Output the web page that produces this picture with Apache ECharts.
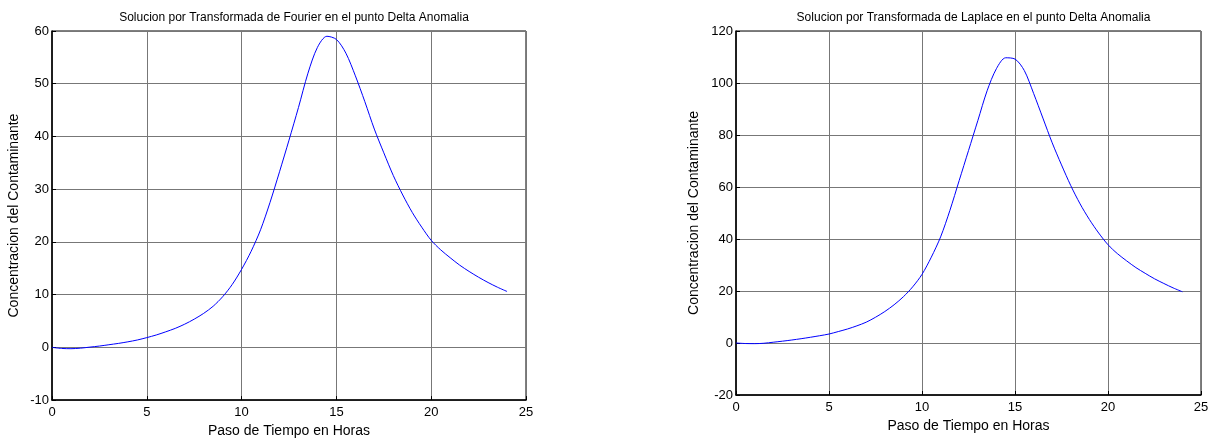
<!DOCTYPE html>
<html>
<head>
<meta charset="utf-8">
<script src="https://cdn.jsdelivr.net/npm/echarts@6/dist/echarts.min.js"></script>
<style>
html,body{margin:0;padding:0;background:#fff;}
#c{width:1212px;height:443px;}
</style>
</head>
<body>
<div id="c"></div>
<script>
const timeHours = [0,0.5,1,1.5,2,2.5,3,3.5,4,4.5,5,5.5,6,6.5,7,7.5,8,8.5,9,9.5,10,10.5,11,11.5,12,12.5,13,13.5,14,14.5,15,15.5,16,16.5,17,17.5,18,18.5,19,19.5,20,20.5,21,21.5,22,22.5,23,23.5,24];
const fourierValues = [0,-0.2,-0.25,-0.15,0.05,0.25,0.5,0.75,1.05,1.4,1.85,2.35,2.95,3.6,4.4,5.35,6.45,7.8,9.6,11.9,14.8,18.2,22.3,27.5,33.3,39.3,45.5,52,56.9,59,58.4,55.8,51.5,46.6,41.4,36.9,32.6,28.9,25.6,22.8,20.3,18.5,17,15.6,14.4,13.3,12.3,11.4,10.6];
const laplaceValues = [0,-0.2,-0.25,-0.1,0.3,0.7,1.15,1.65,2.2,2.8,3.45,4.4,5.4,6.6,8.0,9.9,12.1,14.7,17.8,21.6,26.4,33,40.8,51,62.5,74,85.5,97,105.5,109.7,109.2,104.8,96,86.5,77,68.5,60.5,53.5,47.5,42.3,37.8,34.4,31.6,29,26.8,24.7,22.9,21.2,19.7];
const titles = ["Solucion por Transformada de Fourier en el punto Delta Anomalia","Solucion por Transformada de Laplace en el punto Delta Anomalia"];
const xName = "Paso de Tiempo en Horas";
const yName = "Concentracion del Contaminante";
const xRange = {min:0,max:25,interval:5};
const yRanges = [{min:-10,max:60,interval:10},{min:-20,max:120,interval:20}];

const font = 'Liberation Sans, Arial, sans-serif';
const grids = [
  {left:52, top:31, width:474, height:372},
  {left:736, top:31, width:465, height:364}
];
const chart = echarts.init(document.getElementById('c'));
function pairs(vals){ return timeHours.map((t,i)=>[t, vals[i]]); }
const splitLine = {show:true, lineStyle:{color:'#777777', width:1}};
const opt = {
  animation:false,
  backgroundColor:'#fff',
  title: titles.map((t,i)=>({
    text:t, left: grids[i].left + grids[i].width/2, top:7, textAlign:'center',
    textStyle:{fontFamily:font, fontSize:12, fontWeight:'normal', color:'#000'}
  })),
  grid: grids.map(g=>Object.assign({show:true, borderColor:'#000', borderWidth:1, backgroundColor:'#fff'}, g)),
  xAxis: [0,1].map(i=>({
    type:'value', gridIndex:i, min:xRange.min, max:xRange.max, interval:xRange.interval,
    name:xName, nameLocation:'middle', nameGap:23,
    nameTextStyle:{fontFamily:font, fontSize:14, color:'#000'},
    axisLine:{show:true, onZero:false, lineStyle:{color:'#000', width:1.5}},
    axisTick:{show:true, inside:true, length:4, lineStyle:{color:'#000'}},
    axisLabel:{fontFamily:font, fontSize:13, color:'#000', margin:6},
    splitLine: splitLine
  })),
  yAxis: [0,1].map(i=>({
    type:'value', gridIndex:i, min:yRanges[i].min, max:yRanges[i].max, interval:yRanges[i].interval,
    name:yName, nameLocation:'middle', nameGap: i===0?31:35, nameRotate:90,
    nameTextStyle:{fontFamily:font, fontSize:14, color:'#000'},
    axisLine:{show:true, onZero:false, lineStyle:{color:'#000', width:1.5}},
    axisTick:{show:true, inside:true, length:4, lineStyle:{color:'#000'}},
    axisLabel:{fontFamily:font, fontSize:13, color:'#000', margin:3},
    splitLine: splitLine
  })),
  series: [fourierValues, laplaceValues].map((v,i)=>({
    type:'line', xAxisIndex:i, yAxisIndex:i, data:pairs(v), showSymbol:false, symbol:'none',
    smooth:0.3, lineStyle:{color:'#0000ff', width:1}
  }))
};
chart.setOption(opt);
</script>
</body>
</html>
